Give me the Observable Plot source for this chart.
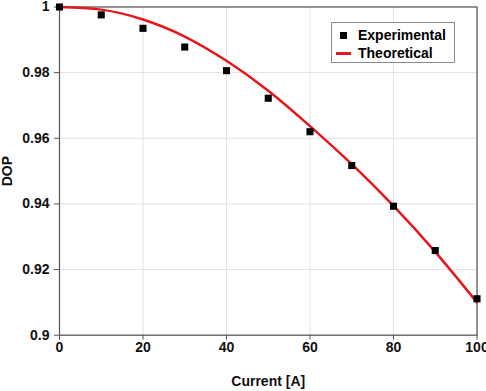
<!DOCTYPE html>
<html>
<head>
<meta charset="utf-8">
<script src="https://cdn.jsdelivr.net/npm/d3@7"></script>
<script src="https://cdn.jsdelivr.net/npm/@observablehq/plot@0.6"></script>
<style>
  html, body { margin: 0; padding: 0; background: #fff; }
  #wrap { position: relative; width: 486px; height: 391px; font-family: "Liberation Sans", Arial, sans-serif; }
  #legend {
    position: absolute; left: 331px; top: 22px; width: 122px; height: 39px;
    border: 1px solid #8a8a8a; background: #fff;
    font: bold 14px "Liberation Sans", Arial, sans-serif; color: #000;
  }
  #legend .row { position: absolute; left: 0; height: 16px; line-height: 16px; }
  #legend .sq { position: absolute; left: 8px; top: 5px; width: 7px; height: 7px; background: #000; }
  #legend .ln { position: absolute; left: 4px; top: 7px; width: 15px; height: 2.5px; background: #e5171e; }
  #legend .tx { position: absolute; left: 26px; top: 0; white-space: nowrap; }
</style>
</head>
<body>
<div id="wrap">
  <div id="chart"></div>
  <div id="legend">
    <div class="row" style="top:4px"><span class="sq"></span><span class="tx">Experimental</span></div>
    <div class="row" style="top:22px"><span class="ln"></span><span class="tx">Theoretical</span></div>
  </div>
</div>
<script>
// Measured degree of polarization vs. current
const currents = [0, 10, 20, 30, 40, 50, 60, 70, 80, 90, 100];
const experimental = [1.0000, 0.9976, 0.9935, 0.9878, 0.9806, 0.9722, 0.9620, 0.9517, 0.9393, 0.9258, 0.9111];

// Theoretical curve
const theoryCurrents = [0, 10, 20, 30, 40, 50, 60, 70, 80, 90, 100];
const theoretical = [1.0000, 0.9992, 0.9962, 0.9910, 0.9836, 0.9745, 0.9637, 0.9521, 0.9394, 0.9254, 0.9100];

// Axis ticks
const xTicks = [0, 20, 40, 60, 80, 100];
const yTicks = [0.9, 0.92, 0.94, 0.96, 0.98, 1];

const expData = currents.map((c, i) => ({current: c, dop: experimental[i]}));
const theoryData = theoryCurrents.map((c, i) => ({current: c, dop: theoretical[i]}));

const chart = Plot.plot({
  width: 486,
  height: 391,
  marginLeft: 59,
  marginRight: 9.5,
  marginTop: 6.5,
  marginBottom: 56.3,
  style: {
    fontFamily: "'Liberation Sans', Arial, sans-serif",
    fontSize: "14px",
    fontWeight: "bold",
    color: "#111",
    background: "#fff",
    overflow: "visible"
  },
  x: {domain: [0, 100]},
  y: {domain: [0.9, 1]},
  marks: [
    Plot.gridX(xTicks, {stroke: "#e2e2e2", strokeOpacity: 1}),
    Plot.gridY(yTicks, {stroke: "#e2e2e2", strokeOpacity: 1}),
    Plot.frame({stroke: "#555", strokeWidth: 1.2}),
    Plot.axisX(xTicks, {
      tickSize: 5, tickPadding: 2, stroke: "#555",
      tickFormat: d => String(d),
      label: "Current [A]", labelAnchor: "center", labelArrow: "none", labelOffset: 51
    }),
    Plot.axisY(yTicks, {
      tickSize: 5, tickPadding: 5, stroke: "#555",
      tickFormat: d3.format("~g"),
      label: "DOP", labelAnchor: "center", labelArrow: "none", labelOffset: 57
    }),
    Plot.line(theoryData, {x: "current", y: "dop", stroke: "#e5171e", strokeWidth: 2.5, curve: "natural"}),
    Plot.dot(expData, {x: "current", y: "dop", symbol: "square", r: 4, fill: "#000", stroke: "none"})
  ]
});
document.getElementById("chart").appendChild(chart);
</script>
</body>
</html>
